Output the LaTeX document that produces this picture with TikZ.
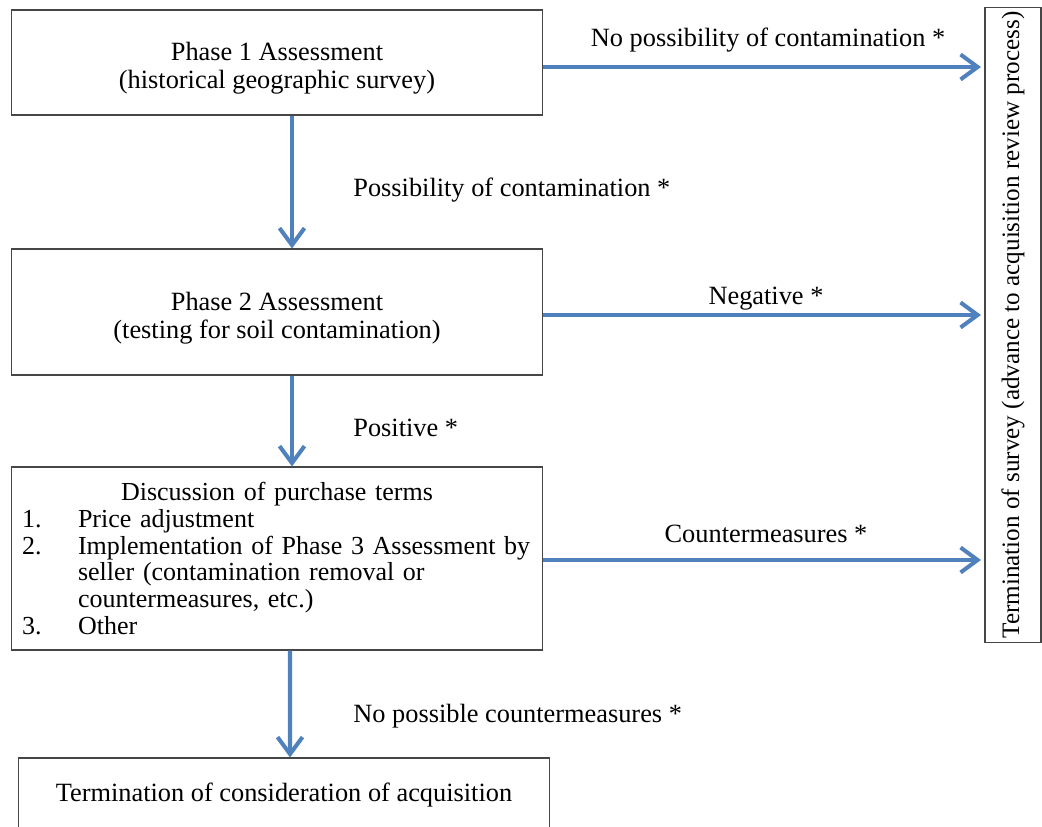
\documentclass[tikz,border=0pt]{standalone}
\usepackage{fontspec}
\setmainfont{Liberation Serif}
\usepackage{graphicx}
\usetikzlibrary{arrows.meta,positioning}
\definecolor{flowblue}{RGB}{79,129,189}
\definecolor{boxgray}{RGB}{70,70,70}
\tikzset{
  box/.style={draw=boxgray, line width=0.6pt, align=center, inner sep=0pt,
    font=\fontsize{15}{16}\selectfont},
  lbl/.style={font=\fontsize{15}{16}\selectfont, inner sep=0pt},
  flow/.style={draw=flowblue, line width=2.3pt,
    -{Straight Barb[length=0.34cm, width=0.5cm, line width=2.3pt]}}
}
\newlength{\numw}
\setlength{\numw}{1.12cm}
\newcommand{\itemline}[2]{\mbox{\hspace*{0.12cm}\makebox[\numw][l]{#1}#2}}
\begin{document}
\begin{tikzpicture}[x=0.02cm, y=-0.02cm]
  \useasboundingbox (0,0) rectangle (1042,827);

  % Kutular
  \node[box, minimum width=10.64cm, minimum height=2.1cm] (phaseone) at (277,62.5)
    {\rule{0pt}{17pt}Phase 1 Assessment\\(historical geographic survey)};
  \node[box, minimum width=10.64cm, minimum height=2.52cm] (phasetwo) at (277,312)
    {\rule{0pt}{17pt}Phase 2 Assessment\\(testing for soil contamination)};
  \node[box, minimum width=10.64cm, minimum height=3.66cm, text width=10.44cm,
    align=left, font=\fontsize{14.8}{15.2}\selectfont] (terms) at (277,558.5)
    {\makebox[10.44cm]{Discussion of purchase terms}\\
     \itemline{1.}{Price adjustment}\\
     \itemline{2.}{Implementation of Phase 3 Assessment by}\\
     \itemline{}{seller (contamination removal or}\\
     \itemline{}{countermeasures, etc.)}\\
     \itemline{3.}{Other}};
  \node[box, minimum width=10.64cm, minimum height=1.48cm] (stopbuy) at (284,795)
    {Termination of consideration of acquisition};

  % Sag dikey kutu
  \node[box, minimum width=1.12cm, minimum height=12.72cm] (stopsurvey) at (1013,325)
    {\rotatebox{90}{\fontsize{14.3}{15}\selectfont Termination of survey (advance to acquisition review process)}};

  % Dikey oklar
  \draw[flow] ([xshift=0.3cm]phaseone.south) -- ([xshift=0.3cm]phasetwo.north);
  \draw[flow] ([xshift=0.3cm]phasetwo.south) -- ([xshift=0.3cm]phasetwo.south |- terms.north);
  \draw[flow] ([xshift=0.26cm]terms.south) -- ([xshift=0.12cm]stopbuy.north);

  % Yatay oklar
  \draw[flow, shorten >=2pt] ([yshift=-0.09cm]phaseone.east) -- ([yshift=-0.09cm]phaseone.east -| stopsurvey.west);
  \draw[flow, shorten >=2pt] ([yshift=-0.06cm]phasetwo.east) -- ([yshift=-0.06cm]phasetwo.east -| stopsurvey.west);
  \draw[flow, shorten >=2pt] ([yshift=-0.03cm]terms.east) -- ([yshift=-0.03cm]terms.east -| stopsurvey.west);

  % Etiketler
  \node[lbl, anchor=base] (nocontam) at (768,47) {No possibility of contamination *};
  \node[lbl, anchor=base west] (contam) at (353,197) {Possibility of contamination *};
  \node[lbl, anchor=base] (negative) at (766,305) {Negative *};
  \node[lbl, anchor=base west] (positive) at (353,437) {Positive *};
  \node[lbl, anchor=base] (counter) at (766,542) {Countermeasures *};
  \node[lbl, anchor=base west] (nocounter) at (353,722) {No possible countermeasures *};
\end{tikzpicture}
\end{document}
